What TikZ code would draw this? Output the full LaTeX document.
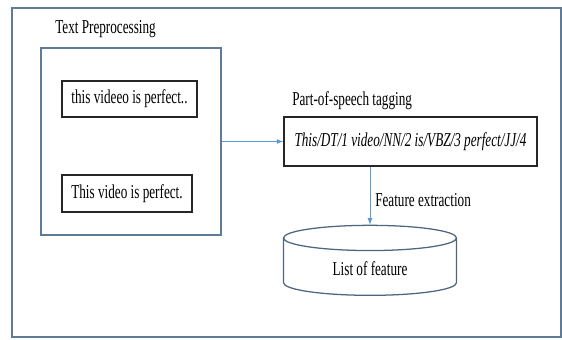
\documentclass[tikz,border=0pt]{standalone}
\usepackage{fontspec}
\setmainfont{Liberation Serif}[FakeStretch=0.67]
\usepackage{tikz}
\usetikzlibrary{shapes.geometric, arrows, positioning}
\definecolor{framecol}{HTML}{5F7B96}
\definecolor{linkcol}{HTML}{5B9BD5}
\definecolor{dbcol}{HTML}{4E6680}
\tikzstyle{arrow}   = [linkcol, line width=0.6pt, ->, >=latex]
\tikzstyle{block}   = [rectangle, draw=black!85, line width=0.9pt, inner sep=0pt]
\tikzstyle{group}   = [rectangle, draw=framecol, line width=1pt, minimum width=4.5cm, minimum height=4.675cm]
\tikzstyle{store}   = [cylinder, shape border rotate=90, draw=dbcol, line width=0.9pt, aspect=0.3,
                       minimum width=4.325cm, minimum height=1.75cm]
\tikzstyle{heading} = [anchor=base west, inner sep=0pt]
\tikzset{every node/.style={align=center, font=\fontsize{14}{16}\selectfont}}

\begin{document}
\begin{tikzpicture}
    \useasboundingbox (0,0) rectangle (14.05,8.475);
    \draw [framecol, line width=1.2pt] (0.3,0.05) rectangle (14.025,8.275);

    \node (prep)  at (3.275, 4.9375) [group] {};
    \node (raw)   at (3.2375, 6.0)   [block, minimum width=3.375cm, minimum height=0.9cm]
          {this videeo is perfect..};
    \node (clean) at (3.175, 3.6375) [block, minimum width=3.25cm, minimum height=0.925cm]
          {This video is perfect.};
    \node (pos)   at (10.2625, 4.9375) [block, line width=1.1pt, minimum width=6.325cm, minimum height=1.225cm,
          font=\fontsize{14}{16}\selectfont\itshape]
          {This/DT/1 video/NN/2 is/VBZ/3 perfect/JJ/4};
    \node (db)    at (9.25, 1.75)  [store] {List of feature};

    \node (prephead) at (1.375, 7.64) [heading] {Text Preprocessing};
    \node (poshead)  at (7.3, 5.83)   [heading] {Part-of-speech tagging};
    \node (feathead) at (9.375, 3.325) [heading] {Feature extraction};

    \draw [arrow] (prep.east) -- (pos.west);
    \draw [arrow] (pos.south -| db.north) -- (db.north);
\end{tikzpicture}
\end{document}
